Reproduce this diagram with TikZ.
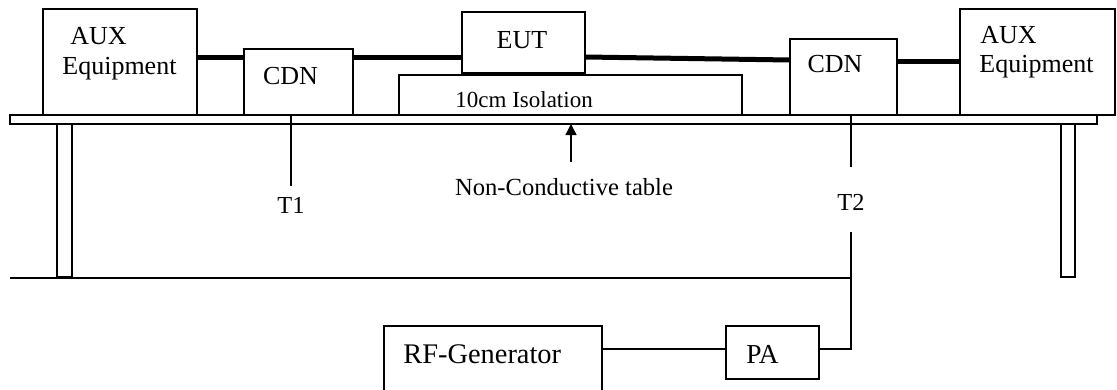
\documentclass[tikz,border=0pt]{standalone}
\usepackage{fontspec}
\setmainfont{Liberation Serif}
\usetikzlibrary{arrows.meta,fit,calc}

\begin{document}
\begin{tikzpicture}[x=0.5pt, y=-0.5pt,
	box/.style={draw, line width=0.7pt, inner sep=0pt, outer sep=0pt},
	cable/.style={line width=2.5pt},
	wire/.style={line width=0.7pt},
	lbl/.style={inner sep=0pt, font=\fontsize{13}{15}\selectfont}]
	\clip (0,0) rectangle (1117,390);
	% table and legs
	\node[box, fit={(10,115) (1097,124)}] (table) {};
	\node[box, fit={(57,124) (72,277)}] (legL) {};
	\node[box, fit={(1061,124) (1075,277)}] (legR) {};
	% units on the table
	\node[box, fit={(43,9) (197,115)}] (auxL) {};
	\node[box, fit={(244,49) (353,115)}] (cdnL) {};
	\node[box, fit={(462,12) (585,73)}] (eut) {};
	\node[box, fit={(399,75) (742,115)}] (iso) {};
	\node[box, fit={(790,39) (897,115)}] (cdnR) {};
	\node[box, fit={(960,9) (1115,115)}] (auxR) {};
	% generator side
	\node[box, fit={(384,326) (602,400)}] (rfgen) {};
	\node[box, fit={(726,326) (819,379)}] (pa) {};
	% texts
	\node[lbl, anchor=base west] (auxLa) at (70,45) {AUX};
	\node[lbl, anchor=base west] (auxLb) at (62,75) {Equipment};
	\node[lbl, anchor=base west] (auxRa) at (980,44) {AUX};
	\node[lbl, anchor=base west] (auxRb) at (979,73) {Equipment};
	\node[lbl, anchor=base] (cdnLt) at (290.5,84) {CDN};
	\node[lbl, anchor=base] (cdnRt) at (835,73) {CDN};
	\node[lbl, anchor=base] (eutt) at (522,49) {EUT};
	\node[lbl, anchor=base west, font=\fontsize{11.5}{13}\selectfont] (isot) at (455,107) {10cm Isolation};
	\node[lbl, anchor=base, font=\fontsize{12.3}{14}\selectfont] (ntab) at (564,195) {Non-Conductive table};
	\node[lbl, anchor=base, font=\fontsize{12.2}{14}\selectfont] (t1) at (291,213) {T1};
	\node[lbl, anchor=base, font=\fontsize{12.2}{14}\selectfont] (t2) at (851,210) {T2};
	\node[lbl, anchor=base west, font=\fontsize{14.2}{16}\selectfont] (rft) at (403,363) {RF-Generator};
	\node[lbl, anchor=base, font=\fontsize{13.7}{16}\selectfont] (pat) at (762.5,363) {PA};
	% cables
	\draw[cable] ([shift={(0,49)}]auxL.north east) -- ([shift={(0,9)}]cdnL.north west);
	\draw[cable] ([shift={(0,9)}]cdnL.north east) -- ([shift={(0,46)}]eut.north west);
	\draw[cable] ([shift={(0,45)}]eut.north east) -- ([shift={(0,21)}]cdnR.north west);
	\draw[cable] ([shift={(0,23)}]cdnR.north east) -- ([shift={(0,53)}]auxR.north west);
	% injection lines
	\draw[wire] (t1.north |- cdnL.south) -- ([yshift=5pt]t1.north);
	\draw[wire] (t2.north |- cdnR.south) -- ([yshift=13pt]t2.north);
	\draw[wire] ([yshift=-11pt]t2.south) |- ([yshift=1.75pt]pa.east);
	\draw[wire] ([yshift=1.75pt]pa.west) -- ([yshift=1.75pt]pa.west -| rfgen.east);
	\coordinate (gnd) at (10,278);
	\draw[wire] (gnd) -- (gnd -| t2.south);
	\draw[wire, -{Triangle[length=5.5pt, width=5.5pt]}] ([xshift=3.5pt, yshift=8pt]ntab.north) -- ([xshift=3.5pt]ntab.north |- table.south);
\end{tikzpicture}
\end{document}
